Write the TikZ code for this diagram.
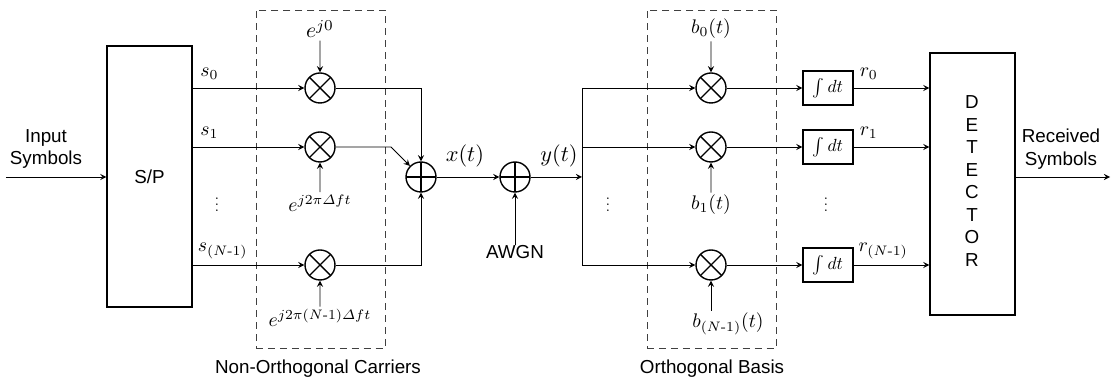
\documentclass[tikz,border=0pt]{standalone}
\usepackage{amsmath}
\usepackage{fontspec}
\newfontfamily\labelfont{Liberation Sans}
\newcommand{\sanssize}{\labelfont\fontsize{10.7}{12.8}\selectfont}
\tikzset{
  blockbox/.style={draw, line width=0.7pt, minimum width=1.7cm, minimum height=5.22cm, font=\sanssize},
  intbox/.style={draw, line width=0.7pt, minimum width=1.0cm, minimum height=0.68cm, inner sep=0pt},
  groupbox/.style={draw, black!75, line width=0.55pt, dash pattern=on 4pt off 2.8pt, minimum width=2.58cm, minimum height=6.76cm},
  mult/.style={draw, thick, circle, minimum size=0.6cm, inner sep=0pt,
    path picture={\draw[thick] (path picture bounding box.north west) -- (path picture bounding box.south east)
      (path picture bounding box.north east) -- (path picture bounding box.south west);}},
  adder/.style={draw, thick, circle, minimum size=0.6cm, inner sep=0pt,
    path picture={\draw[thick] (path picture bounding box.north) -- (path picture bounding box.south)
      (path picture bounding box.east) -- (path picture bounding box.west);}},
  txt/.style={font=\sanssize, align=center, inner sep=0pt},
  lab/.style={inner sep=1pt, scale=1.12},
  biglab/.style={inner sep=1pt, scale=1.27},
  dotslab/.style={inner sep=0pt, scale=0.85}
}
\begin{document}
\begin{tikzpicture}[>=stealth, line width=0.55pt]
            \useasboundingbox (0,0) rectangle (22.26,7.66);
            % dashed groups
            \node[groupbox] (carriers) at (6.41,4.08) {};
            \node[groupbox] (basis) at (14.23,4.08) {};
            \node[txt] (carrierstxt) at (6.36,0.28) {Non-Orthogonal Carriers};
            \node[txt] (basistxt) at (14.24,0.28) {Orthogonal Basis};
            % main blocks
            \node[blockbox] (sp) at (2.99,4.13) {S/P};
            \node[blockbox, minimum height=5.24cm] (det) at (19.45,3.98) {};
            \node[txt] (dettxt) at (19.44,4.04) {D\\E\\T\\E\\C\\T\\O\\R};
            \coordinate (in) at (0.12,4.12);
            \coordinate (out) at (22.2,4.12);
            \node[txt] (intxt) at (0.92,4.68) {Input\\Symbols};
            \node[txt] (outtxt) at (21.22,4.68) {Received\\Symbols};
            \draw[->] (in) -- (in -| sp.west);
            \draw[->] (out -| det.east) -- (out);
            % multipliers
            \node[mult] (m0) at (6.4,5.9) {};
            \node[mult] (m1) at (6.4,4.72) {};
            \node[mult] (m2) at (6.4,2.36) {};
            \node[mult] (n0) at (14.22,5.9) {};
            \node[mult] (n1) at (14.22,4.72) {};
            \node[mult] (n2) at (14.22,2.36) {};
            \node[adder] (sumx) at (8.42,4.12) {};
            \node[adder] (sumy) at (10.3,4.12) {};
            \coordinate (split) at (11.64,4.12);
            \node[txt] (awgn) at (10.3,2.62) {AWGN};
            % integrators
            \node[intbox] (i0) at (16.56,5.9) {$\int dt$};
            \node[intbox] (i1) at (16.56,4.72) {$\int dt$};
            \node[intbox] (i2) at (16.56,2.36) {$\int dt$};
            % carrier labels
            \node[lab, scale=1.1] (e0) at (6.4,7.08) {$e^{j0}$};
            \node[lab] (e1) at (6.4,3.6) {$e^{j2\pi\varDelta ft}$};
            \node[lab] (e2) at (6.4,1.3) {$e^{j2\pi(N\text{-}1)\varDelta ft}$};
            \node[lab] (b0) at (14.22,7.08) {$b_0(t)$};
            \node[lab] (b1) at (14.22,3.56) {$b_1(t)$};
            \node[lab] (b2) at (14.56,1.18) {$b_{(N\text{-}1)}(t)$};
            \draw[->] (e0) -- (m0);
            \draw[->] (e1) -- (m1);
            \draw[->] (e2) -- (m2);
            \draw[->] (b0) -- (n0);
            \draw[->] (b1) -- (n1);
            \draw[->] (b2.north -| n2) -- (n2);
            % transmit side
            \draw[->] (m0 -| sp.east) -- (m0) node[lab, pos=0.15, above=3pt] (s0) {$s_0$};
            \draw[->] (m1 -| sp.east) -- (m1) node[lab, pos=0.15, above=3pt] (s1) {$s_1$};
            \draw[->] (m2 -| sp.east) -- (m2) node[lab, pos=0.27, above=2pt] (s2) {$s_{(N\text{-}1)}$};
            \node[dotslab] (sdots) at (4.34,3.66) {$\vdots$};
            \draw[->] (m0) -| (sumx);
            \draw[->] (m1) -- (7.82,4.72) -- (sumx);
            \draw[->] (m2) -| (sumx);
            \draw[->] (sumx) -- (sumy) node[biglab, pos=0.45, above=3pt] (xt) {$x(t)$};
            \draw[->] (sumy) -- (split) node[biglab, pos=0.55, above=3pt] (yt) {$y(t)$};
            \draw[->] (awgn) -- (sumy);
            % receive side
            \draw (split |- n0) -- (split |- n2);
            \draw[->] (split |- n0) -- (n0);
            \draw[->] (split |- n1) -- (n1);
            \draw[->] (split |- n2) -- (n2);
            \node[dotslab] (ydots) at (12.16,3.66) {$\vdots$};
            \draw[->] (n0) -- (i0);
            \draw[->] (n1) -- (i1);
            \draw[->] (n2) -- (i2);
            \draw[->] (i0) -- (i0 -| det.west) node[lab, pos=0.2, above=3pt] (r0) {$r_0$};
            \draw[->] (i1) -- (i1 -| det.west) node[lab, pos=0.2, above=3pt] (r1) {$r_1$};
            \draw[->] (i2) -- (i2 -| det.west) node[lab, pos=0.39, above=2pt] (r2) {$r_{(N\text{-}1)}$};
            \node[dotslab] (rdots) at (16.52,3.66) {$\vdots$};
\end{tikzpicture}
\end{document}
